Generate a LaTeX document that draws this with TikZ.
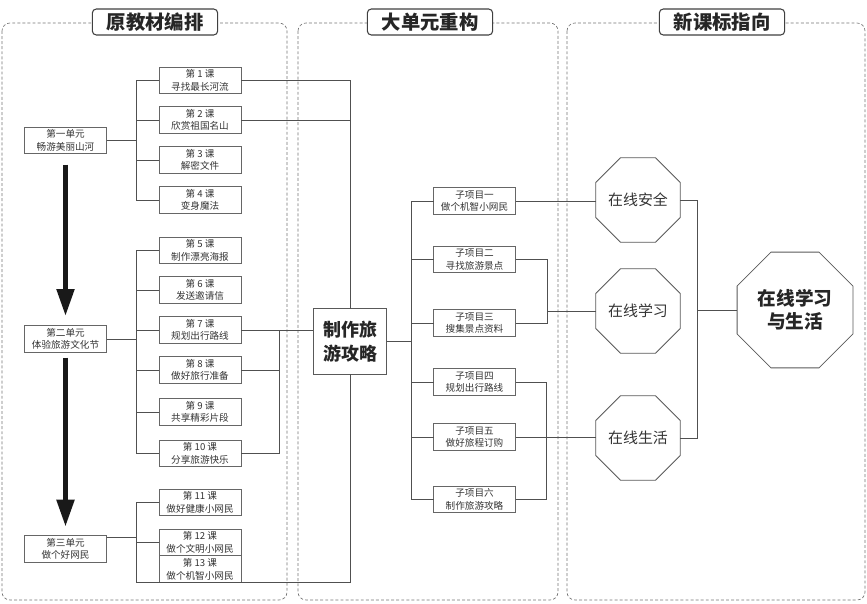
\documentclass[tikz,border=0pt]{standalone}
\usepackage{fontspec}
\setmainfont{Noto Sans CJK SC}
\usetikzlibrary{positioning,calc,arrows.meta,shapes.geometric}
\definecolor{lngray}{HTML}{505050}
\definecolor{txgray}{HTML}{333333}
\tikzset{panel/.style={draw=black!55, dash pattern=on 2.2pt off 1.6pt, rounded corners=6pt, line width=0.5pt}}
\tikzset{ttl/.style={draw=black!75, fill=white, rounded corners=3pt, line width=0.8pt, minimum width=94pt, minimum height=19.5pt, inner sep=0pt, font=\fontsize{14.5}{16}\selectfont\bfseries, text=black!85}}
\tikzset{lbox/.style={draw=black!60, line width=0.6pt, minimum width=61.5pt, minimum height=20pt, inner sep=0pt, outer sep=0pt, align=center, font=\fontsize{7.2}{9.4}\selectfont, text=txgray}}
\tikzset{hubbox/.style={draw=black!65, line width=0.7pt, minimum width=55pt, minimum height=49pt, inner sep=0pt, outer sep=0pt, align=center, font=\fontsize{13.5}{18}\selectfont\bfseries, text=black!85}}
\tikzset{oct/.style={regular polygon, regular polygon sides=8, draw=black!65, line width=0.6pt, minimum size=58.5pt, inner sep=0pt, outer sep=0pt, align=center, font=\fontsize{11.2}{13}\selectfont, text=txgray}}
\tikzset{conn/.style={draw=lngray, line width=0.6pt}}
\tikzset{bigarr/.style={draw=black!90, -{Triangle[width=13pt,length=20pt]}, line width=3.2pt, shorten <=8pt, shorten >=7.5pt}}

\begin{document}
\begin{tikzpicture}[x=0.75pt, y=-0.75pt]
	\useasboundingbox (0,0) rectangle (867,603);
	% three columns
	\draw[panel] (2,23) rectangle (287,600);
	\draw[panel] (298,23) rectangle (558,600);
	\draw[panel] (567,23) rectangle (865,600);
	\node[ttl] (t1) at (155,22) {原教材编排};
	\node[ttl] (t2) at (430,22) {大单元重构};
	\node[ttl] (t3) at (722,22) {新课标指向};

	% units and lessons
	\node[lbox] (u1) at (65.5,140.5) {第一单元\\畅游美丽山河};
	\node[lbox] (u2) at (65.5,339) {第二单元\\体验旅游文化节};
	\node[lbox] (u3) at (65.5,549) {第三单元\\做个好网民};
	\node[lbox] (l1) at (200,80.5) {第 1 课\\寻找最长河流};
	\node[lbox] (l2) at (200,120) {第 2 课\\欣赏祖国名山};
	\node[lbox] (l3) at (200,160) {第 3 课\\解密文件};
	\node[lbox] (l4) at (200,200) {第 4 课\\变身魔法};
	\node[lbox] (l5) at (200,250.5) {第 5 课\\制作漂亮海报};
	\node[lbox] (l6) at (200,290) {第 6 课\\发送邀请信};
	\node[lbox] (l7) at (200,330) {第 7 课\\规划出行路线};
	\node[lbox] (l8) at (200,370) {第 8 课\\做好旅行准备};
	\node[lbox] (l9) at (200,412) {第 9 课\\共享精彩片段};
	\node[lbox] (l10) at (200,453.5) {第 10 课\\分享旅游快乐};
	\node[lbox] (l11) at (200,502.5) {第 11 课\\做好健康小网民};
	\node[lbox] (l12) at (200,542.5) {第 12 课\\做个文明小网民};
	\node[lbox, below=0pt of l12] (l13) {第 13 课\\做个机智小网民};
	\draw[bigarr] (u1) -- (u2);
	\draw[bigarr, shorten <=4pt, shorten >=7pt] (u2) -- (u3);

	% middle
	\node[hubbox] (hub) at (350,341.5) {制作旅\\游攻略};
	\node[lbox] (s1) at (474.5,201) {子项目一\\做个机智小网民};
	\node[lbox] (s2) at (474.5,259.5) {子项目二\\寻找旅游景点};
	\node[lbox] (s3) at (474.5,323) {子项目三\\搜集景点资料};
	\node[lbox] (s4) at (474.5,382) {子项目四\\规划出行路线};
	\node[lbox] (s5) at (474.5,437) {子项目五\\做好旅程订购};
	\node[lbox] (s6) at (474.5,499.5) {子项目六\\制作旅游攻略};

	% right
	\node[oct] (o1) at (638,200) {在线安全};
	\node[oct] (o2) at (638,311) {在线学习};
	\node[oct] (o3) at (638,438) {在线生活};
	\node[oct, minimum size=94pt, font=\fontsize{14}{17.5}\selectfont\bfseries, text=black!85] (goal) at (795,310) {在线学习\\与生活};

	% spines of the brackets
	\coordinate (sp1) at (136,0);
	\coordinate (sp2) at (279,0);
	\coordinate (sp4) at (411,0);
	\coordinate (sp5) at (547,0);
	\coordinate (sp6) at (546,0);
	\coordinate (sp7) at (697,0);

	% unit 1
	\draw[conn] (l1.west) -| (sp1 |- l4.west) -- (l4.west);
	\draw[conn] (l2.west) -- (l2.west -| sp1);
	\draw[conn] (l3.west) -- (l3.west -| sp1);
	\draw[conn] (u1.east) -- (u1.east -| sp1);
	% unit 2
	\draw[conn] (l5.west) -| (sp1 |- l10.west) -- (l10.west);
	\foreach \n in {l6,l7,l8,l9}
		\draw[conn] (\n.west) -- (\n.west -| sp1);
	\draw[conn] (u2.east) -- (u2.east -| sp1);
	% unit 3
	\draw[conn] (l11.west) -| (sp1 |- l13.south) -| (hub.south);
	\draw[conn] (l12.west) -- (l12.west -| sp1);
	\draw[conn] ([yshift=-1pt]u3.north east) -- ([yshift=-1pt]u3.north east -| sp1);

	% lessons into the big unit
	\draw[conn] (l1.east) -| (hub.north);
	\draw[conn] (l2.east) -- (l2.east -| hub.north);
	\draw[conn] (l7.east) -- (l7.east -| hub.west);
	\draw[conn] (l10.east) -| (sp2 |- l7.east);
	\draw[conn] (l8.east) -- (l8.east -| sp2);

	% big unit to sub projects
	\draw[conn] (hub.east) -- (hub.east -| sp4);
	\draw[conn] (s1.west) -| (sp4 |- s6.west) -- (s6.west);
	\foreach \n in {s2,s3,s4,s5}
		\draw[conn] (\n.west) -- (\n.west -| sp4);

	% sub projects to standards
	\draw[conn] (s1.east) -- (s1.east -| o1.west);
	\draw[conn] (s2.east) -| (sp5 |- s3.east) -- (s3.east);
	\draw[conn] (sp5 |- o2.west) -- (o2.west);
	\draw[conn] (s4.east) -| (sp6 |- s6.east) -- (s6.east);
	\draw[conn] (s5.east) -- (s5.east -| o3.west);
	\draw[conn] (o1.east) -| (sp7 |- o3.east) -- (o3.east);
	\draw[conn] (sp7 |- goal.west) -- (goal.west);
\end{tikzpicture}
\end{document}
